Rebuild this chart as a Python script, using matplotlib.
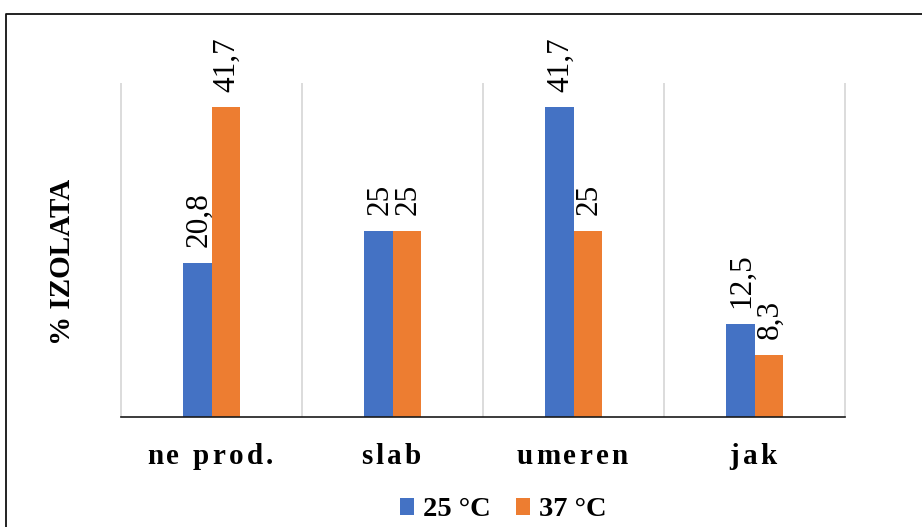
import numpy as np
import matplotlib
matplotlib.use("Agg")
import matplotlib.pyplot as plt
from matplotlib.patches import Patch
from matplotlib.font_manager import FontProperties, findfont, get_font

# Data
categories = ["ne prod.", "slab", "umeren", "jak"]
series_names = ["25 °C", "37 °C"]
values_25 = [20.8, 25, 41.7, 12.5]
values_37 = [41.7, 25, 25, 8.3]

colors = ["#4472C4", "#ED7D31"]
SERIF = "Liberation Serif"

W, H, DPI = 922, 527, 100
fig = plt.figure(figsize=(W / DPI, H / DPI), dpi=DPI)
fig.patch.set_facecolor("white")

ax = fig.add_axes([121 / W, 1 - 417 / H, (845 - 121) / W, (417 - 83) / H])

x = np.arange(len(categories))
bw = 0.155
ax.bar(x - bw / 2, values_25, bw, color=colors[0], zorder=2)
ax.bar(x + bw / 2, values_37, bw, color=colors[1], zorder=2)

ax.set_xlim(-0.5, len(categories) - 0.5)
ax.set_ylim(0, 45)

# category separators
bounds = np.arange(len(categories) + 1) - 0.5
ax.vlines(bounds, 0, 45, colors="#d9d9d9", lw=1.3, zorder=0, clip_on=False)

for s in ["top", "right", "left"]:
    ax.spines[s].set_visible(False)
ax.spines["bottom"].set_color("#1a1a1a")
ax.spines["bottom"].set_linewidth(1.2)
ax.set_xticks([])
ax.set_yticks([])


def fmt(v):
    return f"{v:g}".replace(".", ",")


# value labels
for xs, vals in [(x - bw / 2, values_25), (x + bw / 2, values_37)]:
    for xi, v in zip(xs, vals):
        ax.annotate(fmt(v), xy=(xi, v), xytext=(1, 11.5), textcoords="offset points",
                    rotation=90, ha="center", va="bottom",
                    family=SERIF, fontsize=22.5, color="black")

# letter-spaced category labels
CAT_SIZE = 21
cat_fp = FontProperties(family=SERIF, weight="bold", size=CAT_SIZE)
font = get_font(findfont(cat_fp))
font.set_size(CAT_SIZE, 72)
spacing = 2.3  # points between letters


def advances(s):
    out = []
    for ch in s:
        g = font.load_char(ord(ch))
        out.append(g.linearHoriAdvance / 65536)
    return out


trans = ax.get_xaxis_transform()
for xi, label in zip(x, categories):
    adv = advances(label)
    total = sum(adv) + spacing * (len(label) - 1)
    pos = -total / 2 - 1
    for ch, a in zip(label, adv):
        if ch != " ":
            ax.annotate(ch, xy=(xi, 0), xycoords=trans, xytext=(pos, -34),
                        textcoords="offset points", ha="left", va="baseline",
                        fontproperties=cat_fp, color="black", annotation_clip=False)
        pos += a + spacing

# y-axis title
fig.text(62 / W, 1 - 262 / H, "% IZOLATA", rotation=90, ha="center", va="center",
         family=SERIF, weight="bold", fontsize=21)

# legend
handles = [Patch(facecolor=c, edgecolor="none") for c in colors]
fig.legend(handles, series_names, loc="center", bbox_to_anchor=(503 / W, 1 - 510 / H),
           ncol=2, frameon=False, handlelength=0.5, handleheight=0.5,
           handletextpad=0.3, columnspacing=0.9,
           prop={"family": SERIF, "weight": "bold", "size": 20.5})

# outer frame
x0 = 5.5 / W
y0 = 1 - 13.5 / H
fig.add_artist(plt.Line2D([x0, x0, 1.05], [-0.05, y0, y0], transform=fig.transFigure,
                          color="#111111", lw=1.3))

fig.savefig("out.png", dpi=DPI)
